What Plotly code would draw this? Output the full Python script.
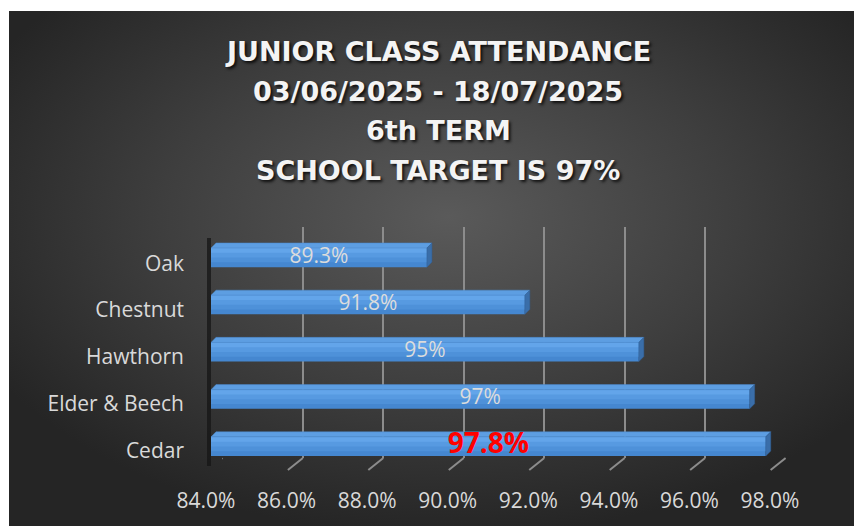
import base64
import plotly.graph_objects as go

# ---------------- data ----------------
CLASSES = ["Cedar", "Elder & Beech", "Hawthorn", "Chestnut", "Oak"]
ATTENDANCE = [97.77, 97.37, 94.62, 91.79, 89.36]
LABELS = ["97.8%", "97%", "95%", "91.8%", "89.3%"]
TICKS = [84, 86, 88, 90, 92, 94, 96, 98]
TICK_TEXT = ["84.0%", "86.0%", "88.0%", "90.0%", "92.0%", "94.0%", "96.0%", "98.0%"]
TITLE_LINES = ["JUNIOR CLASS ATTENDANCE", "03/06/2025 - 18/07/2025", "6th TERM", "SCHOOL TARGET IS 97%"]

W, H = 855, 526
def px(x):
    return x / W
def py(y):
    return 1 - y / H

XMIN, XMAX = 84, 98
BAR_H = 19 / 46.8          # bar thickness in category units
DX = 5 / 40.3              # 3D depth offset (x, % units)
DY = 5 / 46.8              # 3D depth offset (y, category units)

idx = list(range(len(CLASSES)))

fig = go.Figure()

# invisible trace for back-wall grid subplot
fig.add_trace(go.Scatter(x=[XMIN, XMAX], y=[0, 1], mode="markers", marker=dict(opacity=0),
                         hoverinfo="skip", showlegend=False, xaxis="x", yaxis="y"))

# front face of bars with a stepped gradient
bands = [(1.0, "#4587d0"), (0.75, "#4e91d9"), (0.5, "#579ae1"), (0.25, "#63a5ea")]
for frac, col in bands:
    fig.add_trace(go.Bar(
        y=idx, x=[v - XMIN for v in ATTENDANCE], base=XMIN, orientation="h",
        width=BAR_H * frac, offset=BAR_H / 2 - BAR_H * frac,
        marker=dict(color=col, line=dict(width=0)),
        hoverinfo="skip", showlegend=False, xaxis="x2", yaxis="y2"))

# top face and side face polygons
tx, ty, sx, sy = [], [], [], []
for i, v in zip(idx, ATTENDANCE):
    top = i + BAR_H / 2
    bot = i - BAR_H / 2
    tx += [XMIN, v, v + DX, XMIN + DX, XMIN, None]
    ty += [top, top, top + DY, top + DY, top, None]
    sx += [v, v + DX, v + DX, v, v, None]
    sy += [bot, bot + DY, top + DY, top, bot, None]
fig.add_trace(go.Scatter(x=tx, y=ty, mode="lines", fill="toself", fillcolor="#5d9ee2",
                         line=dict(width=0.5, color="#4a86c8"), hoverinfo="skip",
                         showlegend=False, xaxis="x2", yaxis="y2"))
fig.add_trace(go.Scatter(x=sx, y=sy, mode="lines", fill="toself", fillcolor="#3a6ea9",
                         line=dict(width=0.5, color="#33639a"), hoverinfo="skip",
                         showlegend=False, xaxis="x2", yaxis="y2"))

# data labels
lab_text = [("<b>%s</b>" % t) if i == 0 else t for i, t in enumerate(LABELS)]
lab_size = [28 if i == 0 else 21 for i in idx]
lab_col = ["#ff0000" if i == 0 else "#dcdcdc" for i in idx]
fig.add_trace(go.Scatter(
    x=[(XMIN + v) / 2 for v in ATTENDANCE], y=idx, mode="text", text=lab_text,
    textposition="middle center",
    textfont=dict(family="Open Sans", size=lab_size, color=lab_col),
    hoverinfo="skip", showlegend=False, xaxis="x2", yaxis="y2"))

# helper traces for label axes
fig.add_trace(go.Scatter(x=[XMIN, XMAX], y=[0, 0], mode="markers", marker=dict(opacity=0),
                         hoverinfo="skip", showlegend=False, xaxis="x3", yaxis="y2"))
fig.add_trace(go.Scatter(x=[XMIN, XMIN], y=[0, 4], mode="markers", marker=dict(opacity=0),
                         hoverinfo="skip", showlegend=False, xaxis="x2", yaxis="y3"))

# background radial gradient
svg = ("<svg xmlns='http://www.w3.org/2000/svg' viewBox='0 0 845 515' width='845' height='515' "
       "preserveAspectRatio='none'>"
       "<defs><radialGradient id='g' cx='52%' cy='40%' r='62%'>"
       "<stop offset='0' stop-color='#5a5a5a'/><stop offset='0.55' stop-color='#3e3e3e'/>"
       "<stop offset='1' stop-color='#252525'/></radialGradient></defs>"
       "<rect width='845' height='515' fill='url(#g)'/></svg>")
src = "data:image/svg+xml;base64," + base64.b64encode(svg.encode()).decode()

grid_col = "#8c8c8c"
shapes = []
for t in TICKS:
    shapes.append(dict(type="line", xref="x", xsizemode="pixel", xanchor=t, x0=0, x1=-15,
                       yref="paper", ysizemode="pixel", yanchor=py(458), y0=0, y1=-12,
                       line=dict(color=grid_col, width=2), layer="below"))

annotations = []
ycent = [52, 92, 131, 170]
for line, yc in zip(TITLE_LINES, ycent):
    annotations.append(dict(
        text=line, x=px(438), y=py(yc), xref="paper", yref="paper",
        xanchor="center", yanchor="middle", showarrow=False,
        font=dict(family="DejaVu Sans", size=27, color="#f4f4f4", weight="bold",
                  shadow="2px 2px 3px rgba(0,0,0,0.8)")))

lab_font = dict(family="Open Sans", size=21, color="#d9d9d9")

fig.update_layout(
    width=W, height=H, margin=dict(l=0, r=0, t=0, b=0, pad=0, autoexpand=False),
    paper_bgcolor="white", plot_bgcolor="rgba(0,0,0,0)",
    showlegend=False, barmode="overlay",
    images=[dict(source=src, xref="paper", yref="paper", x=px(9), y=py(11),
                 sizex=px(854) - px(9), sizey=py(11) - py(526),
                 xanchor="left", yanchor="top", sizing="stretch", layer="below")],
    shapes=shapes, annotations=annotations,
    xaxis=dict(domain=[px(222), px(786)], range=[XMIN - 0.01, XMAX + 0.01], anchor="y",
               tickvals=TICKS, showgrid=True, gridcolor=grid_col, gridwidth=2,
               showticklabels=False, zeroline=False, showline=False, ticks="", fixedrange=True,
               automargin=False),
    yaxis=dict(domain=[py(458), py(227)], range=[0, 1], anchor="x", showgrid=False,
               showticklabels=False, zeroline=False, showline=False, ticks="", fixedrange=True,
               automargin=False),
    xaxis2=dict(domain=[px(211), px(775)], range=[XMIN, XMAX], anchor="y2", showgrid=False,
                showticklabels=False, zeroline=False, showline=False, ticks="", fixedrange=True,
                automargin=False),
    yaxis2=dict(domain=[py(466), py(238)], range=[-0.5 + 4 / 46.8, 4.5 - 4 / 46.8], anchor="x2",
                showgrid=False, showticklabels=False, zeroline=False, showline=True,
                linecolor="rgba(22,22,22,0.75)", linewidth=4, layer="below traces", ticks="",
                fixedrange=True, automargin=False),
    xaxis3=dict(domain=[px(206), px(770)], range=[XMIN, XMAX], anchor="free", position=py(486),
                tickvals=TICKS, ticktext=TICK_TEXT, tickfont=lab_font, showgrid=False,
                zeroline=False, showline=False, ticks="", fixedrange=True, automargin=False),
    yaxis3=dict(domain=[py(473.9), py(239.9)], range=[-0.5, 4.5], anchor="free", position=px(184),
                tickvals=idx, ticktext=CLASSES, tickfont=lab_font, showgrid=False,
                zeroline=False, showline=False, ticks="", fixedrange=True, automargin=False),
)

fig.write_html("out.html", config={"displayModeBar": False},
               post_script="document.body.style.margin='0px';document.body.style.overflow='hidden';")
